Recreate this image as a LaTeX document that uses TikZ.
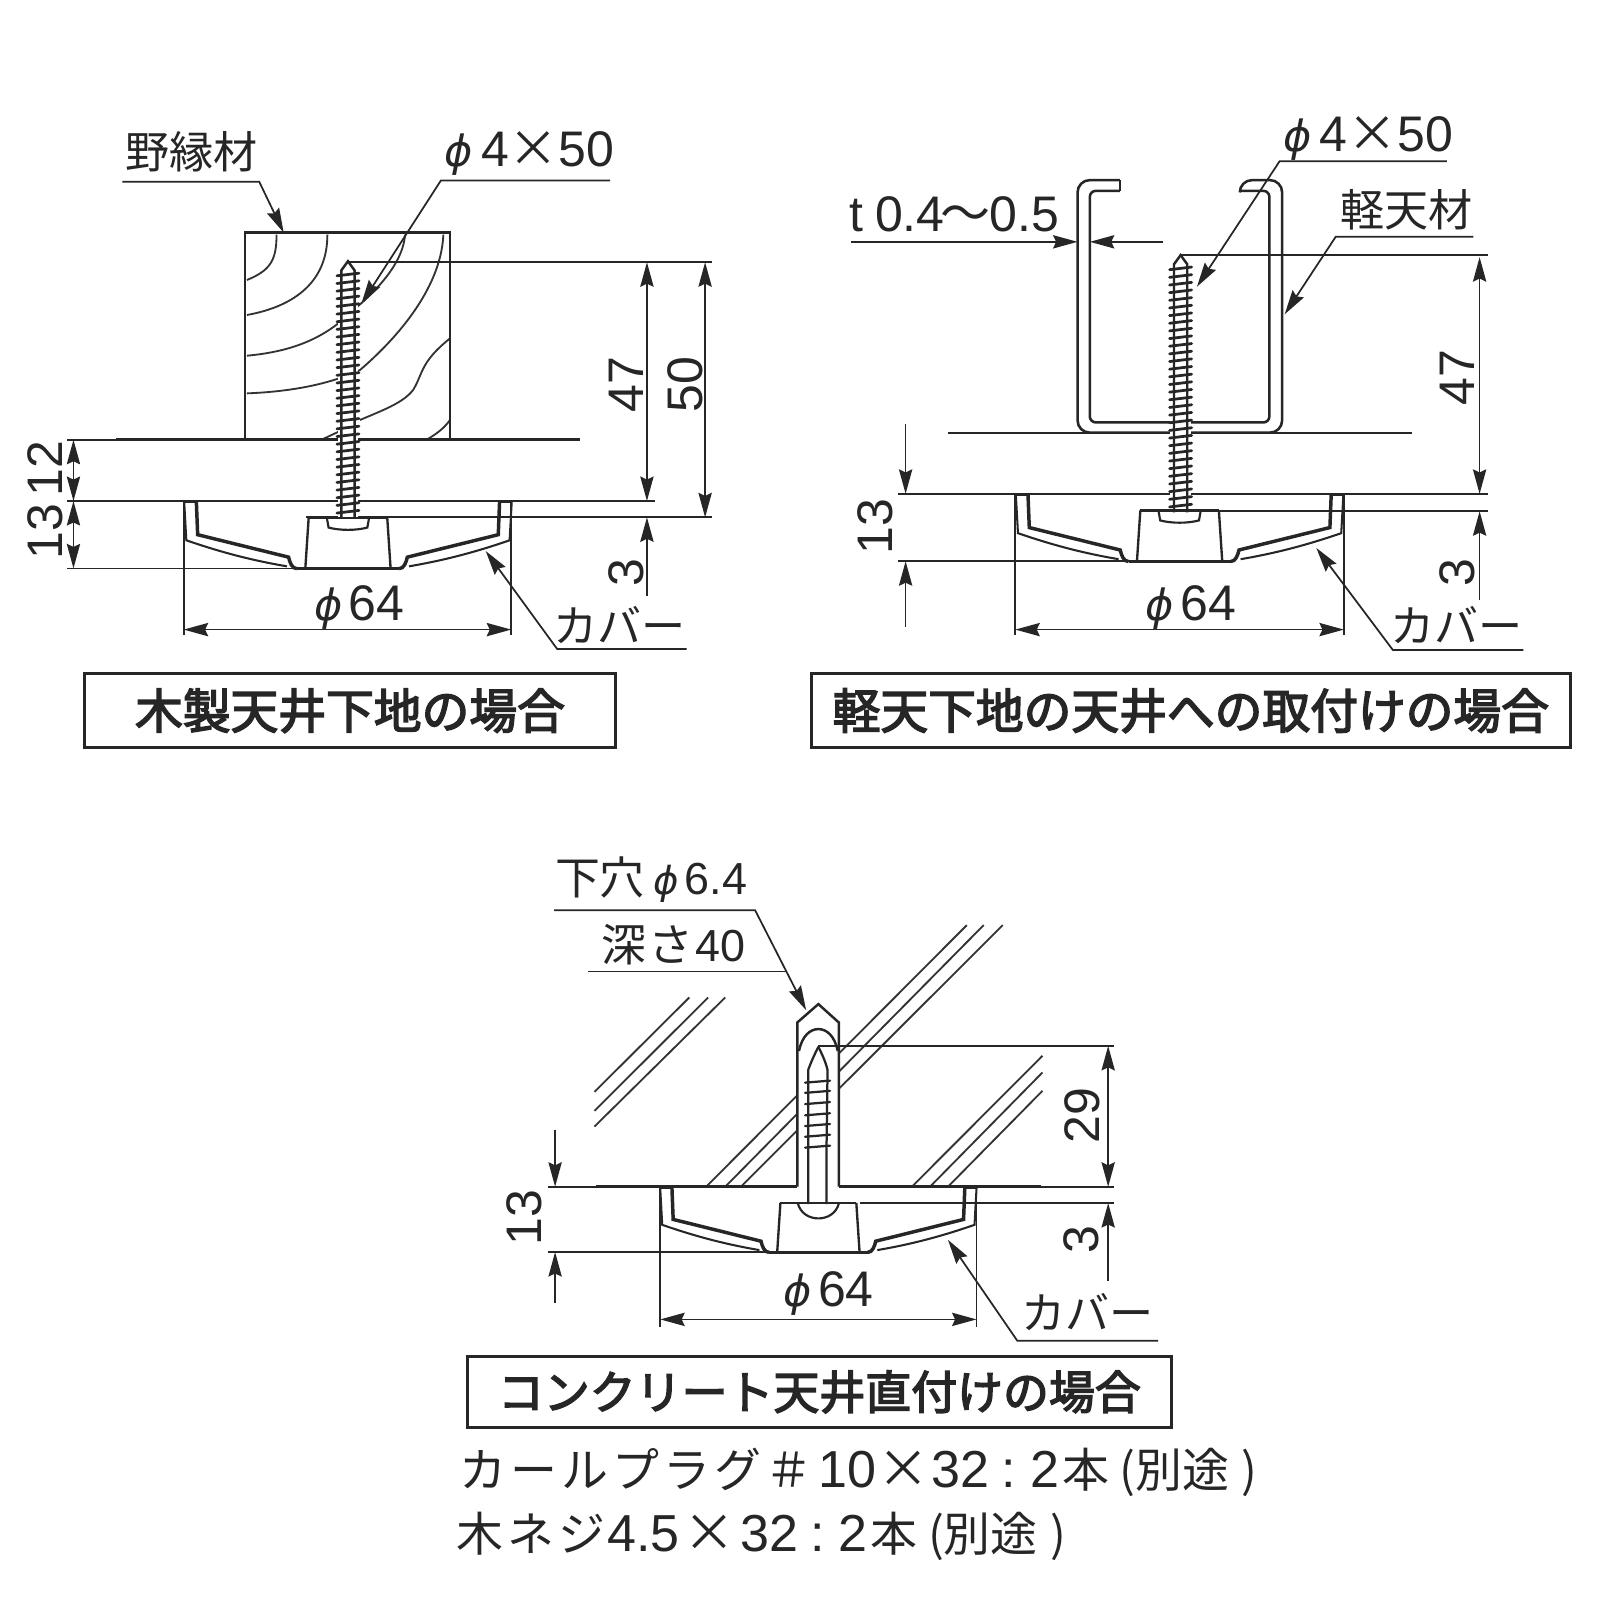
\documentclass[tikz,border=0pt]{standalone}
\usepackage{fontspec}
\usetikzlibrary{arrows.meta}
\setmainfont{Liberation Sans}
\newfontfamily\jp{Noto Sans CJK JP}
\newfontfamily\jpm[FakeBold=3.2]{Noto Sans CJK JP}
\newfontfamily\phifont{DejaVu Sans}
\newcommand{\ph}{\scalebox{0.86}{\phifont\itshape ϕ}}
\newcommand{\tms}{{\jp ×}}
\tikzset{
  heavy/.style={line width=1.35pt,black!85},
  light/.style={line width=0.85pt,black!85},
  grain/.style={line width=0.9pt,black!80},
  tip/.tip={Stealth[length=12pt,width=6.5pt,inset=1.5pt]},
  dimline/.style={light,{tip}-{tip}},
  onearrow/.style={light,-{tip}},
  lab/.style={inner sep=0pt,font=\fontsize{24.5}{24.5}\selectfont,black!85},
  jplab/.style={inner sep=0pt,font=\fontsize{21.6}{21.6}\selectfont\jp,black!85},
  titlebox/.style={draw=black!90,line width=1.5pt,inner sep=0pt,font=\fontsize{23.4}{23.4}\selectfont\jpm,black!85},
}
% cover profile, origin at top centre
\newcommand{\coverprofile}{%
  \draw[light,line width=1pt] (-160.5,0.5) -- (-158.4,38.5) .. controls (-125,50) and (-95,58) .. (-59.8,64);
  \draw[light,line width=1pt] (160.5,0.5) -- (158.4,38.5) .. controls (125,50) and (95,58) .. (59.8,64);
  \draw[heavy,line width=1.7pt] (-148.6,0) -- (-147.3,33) -- (-58.2,55) .. controls (-57,60) and (-55,66.3) .. (-50,66.3) (50,66.3) .. controls (55,66.3) and (57,60) .. (58.2,55) -- (147.3,33) -- (148.6,0);
  \draw[heavy] (-50,66.3) -- (50,66.3);
  \draw[light,line width=1pt] (-160.5,1) -- (-148.6,1) (160.5,1) -- (148.6,1);
  \draw[heavy,line width=1.15pt] (-41.8,66.3) -- (-38.5,16.3) (41.8,66.3) -- (38.5,16.3);
}
\newcommand{\headshape}{%
  \draw[heavy,line width=1.05pt] (-20.6,17) -- (-19,26) .. controls (-8,29) and (8,29) .. (19,26) -- (20.6,17);
}
% wood screw: centre x, tip y, bottom y
\newcommand{\woodscrew}[3]{%
  \fill[white] (#1-10,#2+10) rectangle (#1+10,#3);
  \pgfmathtruncatemacro{\nthr}{(#3-3-#2-13)/7.5}
  \foreach \ii in {0,...,\nthr}{
    \pgfmathsetmacro{\yy}{#2+13+\ii*7.5}
    \draw[line width=1.35pt,black!85,line cap=round] (#1-10.8,\yy+1.3) -- (#1+10.8,\yy-1.3);
  }
  \draw[heavy,line width=1.2pt] (#1-6.5,#3) -- (#1-6.5,#2+9) -- (#1,#2) -- (#1+6.5,#2+9) -- (#1+6.5,#3);
}
\begin{document}
\begin{tikzpicture}[x=0.5pt,y=-0.5pt]
\useasboundingbox (0,0) rectangle (1568,1568);
\fill[white] (0,0) rectangle (1568,1568);

%% ---------- left diagram: wood ----------
\draw[grain] (271,230) .. controls (271,255) and (265,265) .. (242,274.4);
\draw[grain] (320.8,230) .. controls (321,275) and (290,300) .. (242,308.7);
\draw[grain] (242,348.6) .. controls (280,345) and (315,335) .. (345,305) .. controls (375,280) and (395,255) .. (397,230);
\draw[grain] (242,385.5) .. controls (280,384) and (320,378) .. (352.8,362.6) .. controls (385,335) and (432,285) .. (434.5,230);
\draw[grain] (315,431) -- (333.2,422.4) (352.8,411.6) .. controls (375,402) and (395,395) .. (405,382) .. controls (415,365) and (412,355) .. (441,331.6);
\draw[grain] (418,431) .. controls (428,425) and (435,420) .. (441,411.6);
\draw[heavy] (240,431) -- (240,228) -- (441,228) -- (441,431);
\draw[heavy] (114,431) -- (568,431);
\draw[heavy] (114,491) -- (568,491);
\draw[light] (66,431) -- (114,431) (66,491) -- (114,491) (568,491) -- (642,491);
\draw[light] (341,257) -- (698,257);
\draw[light] (300,507) -- (698,507);
\draw[light] (66,557) -- (300,557);
\woodscrew{341}{256}{508}
\begin{scope}[shift={(341,491)}]\coverprofile\headshape\draw[heavy,line width=1.1pt] (-38.5,16.3) -- (38.5,16.3);\end{scope}
\draw[light] (180,491) -- (180,622) (501,491) -- (501,622);

\coordinate (a12t) at (72,431); \coordinate (a12b) at (72,491); \coordinate (a13b) at (72,557);
\draw[dimline] (a12t) -- (a12b);
\draw[dimline] (a12b) -- (a13b);
\node[lab,rotate=90] (t12) at (44,459) {12};
\node[lab,rotate=90] (t13) at (44,521) {13};
\coordinate (a47t) at (634,257); \coordinate (a47b) at (634,491);
\draw[dimline] (a47t) -- (a47b);
\node[lab,rotate=90] (t47) at (614,377) {47};
\coordinate (a50t) at (691,257); \coordinate (a50b) at (691,507);
\draw[dimline] (a50t) -- (a50b);
\node[lab,rotate=90] (t50) at (672,377) {50};
\coordinate (a3t) at (634,507); \coordinate (a3b) at (634,584);
\draw[onearrow] (a3b) -- (a3t);
\node[lab,rotate=90] (t3) at (614,561) {3};
\coordinate (ad64l) at (180,617); \coordinate (ad64r) at (501,617);
\draw[dimline] (ad64l) -- (ad64r);
\node[lab] (p64) at (352,595) {\ph\hspace{3pt}64};
\node[jplab] (tcov) at (607,613) {カバー};
\coordinate (lc1) at (673,636); \coordinate (lc2) at (546,636); \coordinate (lc3) at (476,540);
\draw[onearrow] (lc1) -- (lc2) -- (lc3);
\node[jplab] (tno) at (188,149) {野縁材};
\coordinate (ln1) at (120,178); \coordinate (ln2) at (254,178); \coordinate (ln3) at (278,228);
\draw[onearrow] (ln1) -- (ln2) -- (ln3);
\node[lab] (tphi) at (519,150) {\ph\hspace{4pt}4\tms 50};
\coordinate (lp1) at (598,177); \coordinate (lp2) at (432,177); \coordinate (lp3) at (354,298);
\draw[onearrow] (lp1) -- (lp2) -- (lp3);
\node[titlebox,minimum width=260pt,minimum height=36.5pt] (box1) at (343,696.5) {木製天井下地の場合};

%% ---------- right diagram: channel ----------
\draw[heavy,line width=1.25pt,rounded corners=6pt] (1097.5,176.5) -- (1056,176.5) -- (1056,424) -- (1256.5,424) -- (1256.5,176.5) -- (1215,176.5) -- (1215,187);
\draw[heavy,line width=1.25pt,rounded corners=3pt] (1215,187) -- (1244,187) -- (1244,414) -- (1068,414) -- (1068,187) -- (1097.5,187);
\draw[heavy,line width=1.25pt] (1097.5,187) -- (1097.5,176.5);
\draw[heavy,line width=1.1pt] (929,424) -- (1384,424);
\draw[heavy] (929,484) -- (1384,484);
\draw[light] (880,484) -- (929,484) (1384,484) -- (1458,484);
\draw[light] (1120,501) -- (1458,501);
\draw[light] (880,550) -- (1110,550);
\draw[light] (1157,250) -- (1458,250);
\woodscrew{1157}{250}{502}
\begin{scope}[shift={(1156,484)}]\coverprofile\headshape\draw[heavy,line width=1.1pt] (-38.5,16.3) -- (38.5,16.3);\end{scope}
\draw[light] (995,484) -- (995,622) (1317,484) -- (1317,622);

\coordinate (b47t) at (1450,252); \coordinate (b47b) at (1450,484);
\draw[dimline] (b47t) -- (b47b);
\node[lab,rotate=90] (u47) at (1428,370) {47};
\coordinate (b3t) at (1450,501); \coordinate (b3b) at (1450,588);
\draw[onearrow] (b3b) -- (b3t);
\node[lab,rotate=90] (u3) at (1428,561) {3};
\coordinate (b13a) at (887.5,416); \coordinate (b13b) at (887.5,484);
\coordinate (b13c) at (887.5,614); \coordinate (b13d) at (887.5,550);
\draw[onearrow] (b13a) -- (b13b);
\draw[onearrow] (b13c) -- (b13d);
\node[lab,rotate=90] (u13) at (858,516) {13};
\coordinate (bd64l) at (995,617); \coordinate (bd64r) at (1317,617);
\draw[dimline] (bd64l) -- (bd64r);
\node[lab] (q64) at (1167,595) {\ph\hspace{3pt}64};
\node[jplab] (ucov) at (1427,613) {カバー};
\coordinate (mc1) at (1493,637); \coordinate (mc2) at (1365,637); \coordinate (mc3) at (1290,537);
\draw[onearrow] (mc1) -- (mc2) -- (mc3);
\node[lab] (ut) at (935,210) {t\hspace{6pt}0.4\hspace{-2pt}{\jp ～}\hspace{-0.5pt}0.5};
\coordinate (mt1) at (834,237); \coordinate (mt2) at (1056,237); \coordinate (mt3) at (1140,237); \coordinate (mt4) at (1068,237);
\draw[onearrow] (mt1) -- (mt2);
\draw[onearrow] (mt3) -- (mt4);
\node[lab] (uphi) at (1341,136) {\ph\hspace{4pt}4\tms 50};
\coordinate (mp1) at (1418,158); \coordinate (mp2) at (1254,158); \coordinate (mp3) at (1173,281);
\draw[onearrow] (mp1) -- (mp2) -- (mp3);
\node[jplab] (ukei) at (1378,206) {軽天材};
\coordinate (mk1) at (1444,232); \coordinate (mk2) at (1309,232); \coordinate (mk3) at (1259,308);
\draw[onearrow] (mk1) -- (mk2) -- (mk3);
\node[titlebox,minimum width=372pt,minimum height=36.5pt] (box2) at (1167,696.5) {軽天下地の天井への取付けの場合};

%% ---------- bottom diagram: concrete ----------
\draw[grain] (675.5,977.5) -- (582.6,1070) (694,977.5) -- (582.6,1088.6) (710.7,977.5) -- (582.6,1104);
\draw[grain] (947.5,906.6) -- (692,1163) (964,906.6) -- (710.7,1163) (982.7,906.6) -- (726,1163);
\draw[grain] (1021.6,1034.7) -- (893.6,1163) (1021.6,1051) -- (911.4,1163) (1021.6,1069) -- (929,1163);
\fill[white] (781.4,1163) -- (781.4,1002) -- (802,984) -- (822,1002) -- (822,1163) -- cycle;
\draw[heavy,line width=1.2pt] (781.4,1163) -- (781.4,1002) -- (802,984) -- (822,1002) -- (822,1163);
\draw[heavy,line width=1.2pt] (783,1030) .. controls (786,1015) and (794,1008.5) .. (802,1008.5) .. controls (810,1008.5) and (818,1015) .. (821,1030);
\draw[heavy,line width=1.1pt] (802,1025.8) .. controls (805,1032) and (809,1040) .. (811,1048.6) -- (810,1124) -- (810,1180);
\draw[heavy,line width=1.1pt] (802,1025.8) .. controls (799,1032) and (795,1040) .. (792,1048.6) -- (792,1124) -- (792,1180);
\foreach \yy in {1060,1070,1081,1092,1102.5,1113,1123.7}{
  \draw[heavy,line width=1.1pt,line cap=round] (789,\yy+1) -- (813.4,\yy-1);
}
\draw[heavy] (584,1163) -- (781.4,1163) (822,1163) -- (1020,1163);
\draw[light] (537,1163) -- (584,1163) (1020,1163) -- (1092,1163);
\draw[light] (802,1025) -- (1092,1025);
\draw[light] (843,1179) -- (1092,1179);
\draw[light] (537,1227) -- (750,1227);
\begin{scope}[shift={(802,1163)},xscale=0.966,yscale=0.97]\coverprofile\draw[heavy,line width=1.1pt] (-38.5,16.3) -- (38.5,16.3);\draw[heavy,line width=1.05pt] (-21,16.3) .. controls (-18,28) and (-8,32) .. (0,32) .. controls (8,32) and (18,28) .. (21,16.3);\end{scope}
\draw[light] (647,1163) -- (647,1300) (957,1163) -- (957,1300);

\coordinate (c29t) at (1086,1025); \coordinate (c29b) at (1086,1163);
\draw[dimline] (c29t) -- (c29b);
\node[lab,rotate=90] (v29) at (1061,1093) {29};
\coordinate (c3t) at (1086,1179); \coordinate (c3b) at (1086,1255);
\draw[onearrow] (c3b) -- (c3t);
\node[lab,rotate=90] (v3) at (1060,1215) {3};
\coordinate (c13a) at (544,1107); \coordinate (c13b) at (544,1163);
\coordinate (c13c) at (544,1277); \coordinate (c13d) at (544,1227);
\draw[onearrow] (c13a) -- (c13b);
\draw[onearrow] (c13c) -- (c13d);
\node[lab,rotate=90] (v13) at (514,1193) {13};
\coordinate (cd64l) at (647,1293); \coordinate (cd64r) at (957,1293);
\draw[dimline] (cd64l) -- (cd64r);
\node[lab] (r64) at (812,1268) {\ph\hspace{3pt}64};
\node[jplab] (vcov) at (1066,1286) {カバー};
\coordinate (nc1) at (1135,1314); \coordinate (nc2) at (997,1314); \coordinate (nc3) at (929,1215);
\draw[onearrow] (nc1) -- (nc2) -- (nc3);
\node[lab,font=\fontsize{22}{22}\selectfont] (vhole) at (638,862) {{\jp 下穴}\hspace{4pt}\ph\hspace{3pt}6.4};
\node[lab,font=\fontsize{22}{22}\selectfont] (vdepth) at (660,926) {{\jp 深\hspace{1pt}さ}\hspace{1pt}40};
\coordinate (nh1) at (543,892); \coordinate (nh2) at (740,892); \coordinate (nh3) at (790,990);
\draw[onearrow] (nh1) -- (nh2) -- (nh3);
\coordinate (nd1) at (576,952); \coordinate (nd2) at (770.5,952);
\draw[light] (nd1) -- (nd2);
\node[titlebox,font=\fontsize{22.5}{22.5}\selectfont\jpm,minimum width=345pt,minimum height=35pt] (box3) at (803,1364) {コンクリート天井直付けの場合};
\node[lab,anchor=base west,font=\fontsize{25.5}{25.5}\selectfont] (note1) at (450,1458) {{\fontsize{23}{23}\selectfont\jp カ\hspace{2pt}ー\hspace{2pt}ル\hspace{2pt}プ\hspace{2pt}ラ\hspace{2pt}グ\hspace{2pt}＃}\hspace{3pt}10\hspace{0.5pt}\tms\hspace{1pt}32\hspace{6pt}:\hspace{7pt}2\hspace{1.5pt}{\fontsize{23}{23}\selectfont\jp 本\hspace{5pt}(別途\hspace{6pt})}};
\node[lab,anchor=base west,font=\fontsize{25.5}{25.5}\selectfont] (note2) at (447,1520) {{\fontsize{23}{23}\selectfont\jp 木\hspace{2pt}ネ\hspace{2pt}ジ}\hspace{1pt}4.5\hspace{2pt}\tms\hspace{2pt}32\hspace{6pt}:\hspace{7pt}2\hspace{1.5pt}{\fontsize{23}{23}\selectfont\jp 本\hspace{5pt}(別途\hspace{6pt})}};
\end{tikzpicture}
\end{document}
